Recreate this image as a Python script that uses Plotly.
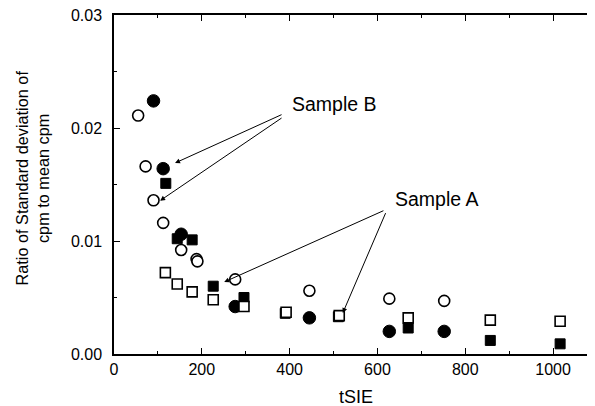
import plotly.graph_objects as go

# Data
open_circle_x = [55, 72, 90, 112, 153, 188, 190, 276, 445, 627, 752]
open_circle_y = [0.0211, 0.0166, 0.0136, 0.0116, 0.0092, 0.0084, 0.0082, 0.0066, 0.0056, 0.0049, 0.0047]

filled_circle_x = [90, 112, 153, 276, 445, 627, 752]
filled_circle_y = [0.0224, 0.0164, 0.0106, 0.0042, 0.0032, 0.0020, 0.0020]

filled_square_x = [118, 144, 178, 226, 296, 390, 511, 670, 857, 1016]
filled_square_y = [0.0151, 0.0102, 0.0101, 0.0060, 0.0050, 0.0036, 0.0033, 0.0023, 0.0012, 0.0009]

open_square_x = [117, 144, 178, 226, 296, 392, 513, 670, 857, 1016]
open_square_y = [0.0072, 0.0062, 0.0055, 0.0048, 0.0042, 0.0037, 0.0034, 0.0032, 0.0030, 0.0029]

x_ticks = [0, 200, 400, 600, 800, 1000]
y_ticks = [0.00, 0.01, 0.02, 0.03]

FONT = "Liberation Sans, Arial, sans-serif"

fig = go.Figure()
fig.add_trace(go.Scatter(x=filled_circle_x, y=filled_circle_y, mode="markers",
                         marker=dict(symbol="circle", size=12.5, color="black",
                                     line=dict(color="black", width=1)),
                         name="filled circle"))
fig.add_trace(go.Scatter(x=filled_square_x, y=filled_square_y, mode="markers",
                         marker=dict(symbol="square", size=10, color="black",
                                     line=dict(color="black", width=1)),
                         name="filled square"))
fig.add_trace(go.Scatter(x=open_circle_x, y=open_circle_y, mode="markers",
                         marker=dict(symbol="circle", size=11, color="white",
                                     line=dict(color="black", width=1.6)),
                         name="open circle"))
fig.add_trace(go.Scatter(x=open_square_x, y=open_square_y, mode="markers",
                         marker=dict(symbol="square", size=10, color="white",
                                     line=dict(color="black", width=1.6)),
                         name="open square"))

arrow = dict(xref="x", yref="y", axref="x", ayref="y", text="", showarrow=True,
             arrowhead=2, arrowsize=1, arrowwidth=1, arrowcolor="black", standoff=0)
annotations = [
    dict(x=139, y=0.0169, ax=385, ay=0.02124, **arrow),
    dict(x=105, y=0.01357, ax=385, ay=0.02097, **arrow),
    dict(x=251, y=0.00637, ax=617, ay=0.01274, **arrow),
    dict(x=521, y=0.00363, ax=620, ay=0.01260, **arrow),
    dict(x=(290 - 114) / 0.439, y=(354 - 104) / 11300, xref="x", yref="y", text="Sample B",
         showarrow=False, xanchor="left", yanchor="middle",
         font=dict(family=FONT, size=19.5, color="black")),
    dict(x=(393 - 114) / 0.439, y=(354 - 199) / 11300, xref="x", yref="y", text="Sample A",
         showarrow=False, xanchor="left", yanchor="middle",
         font=dict(family=FONT, size=19.5, color="black")),
    dict(x=-0.168, y=0.52, xref="paper", yref="paper",
         text="Ratio of Standard deviation of<br>cpm to mean cpm",
         textangle=-90, showarrow=False, xanchor="center", yanchor="middle",
         font=dict(family=FONT, size=16.3, color="black")),
    dict(x=0.5, y=-0.128, xref="paper", yref="paper", text="tSIE",
         showarrow=False, xanchor="center", yanchor="middle",
         font=dict(family=FONT, size=18, color="black")),
]

# The page adds an ~8px body margin; margins below compensate for it.
fig.update_layout(
    width=590, height=398,
    margin=dict(l=106, r=1, t=7, b=52, autoexpand=False),
    paper_bgcolor="white", plot_bgcolor="white",
    showlegend=False,
    font=dict(family=FONT, size=16, color="black"),
    annotations=annotations,
    xaxis=dict(range=[0, 1100], tickvals=x_ticks, ticktext=[str(v) for v in x_ticks],
               ticks="inside", ticklen=6, tickwidth=1.3, tickcolor="black",
               minor=dict(dtick=100, ticks="inside", ticklen=3.5, tickwidth=1.2, tickcolor="black"),
               showline=True, linecolor="black", linewidth=1.5, mirror="ticks",
               showgrid=False, zeroline=False, automargin=False, ticklabeloverflow="allow"),
    yaxis=dict(range=[0, 0.03], tickvals=y_ticks, ticktext=["%.2f" % v for v in y_ticks],
               ticks="inside", ticklen=6, tickwidth=1.3, tickcolor="black",
               minor=dict(dtick=0.005, ticks="inside", ticklen=3.5, tickwidth=1.2, tickcolor="black"),
               showline=True, linecolor="black", linewidth=1.5, mirror="ticks",
               showgrid=False, zeroline=False, ticklabelstandoff=7, automargin=False,
               ticklabeloverflow="allow"),
)

fig.write_html("out.html")
